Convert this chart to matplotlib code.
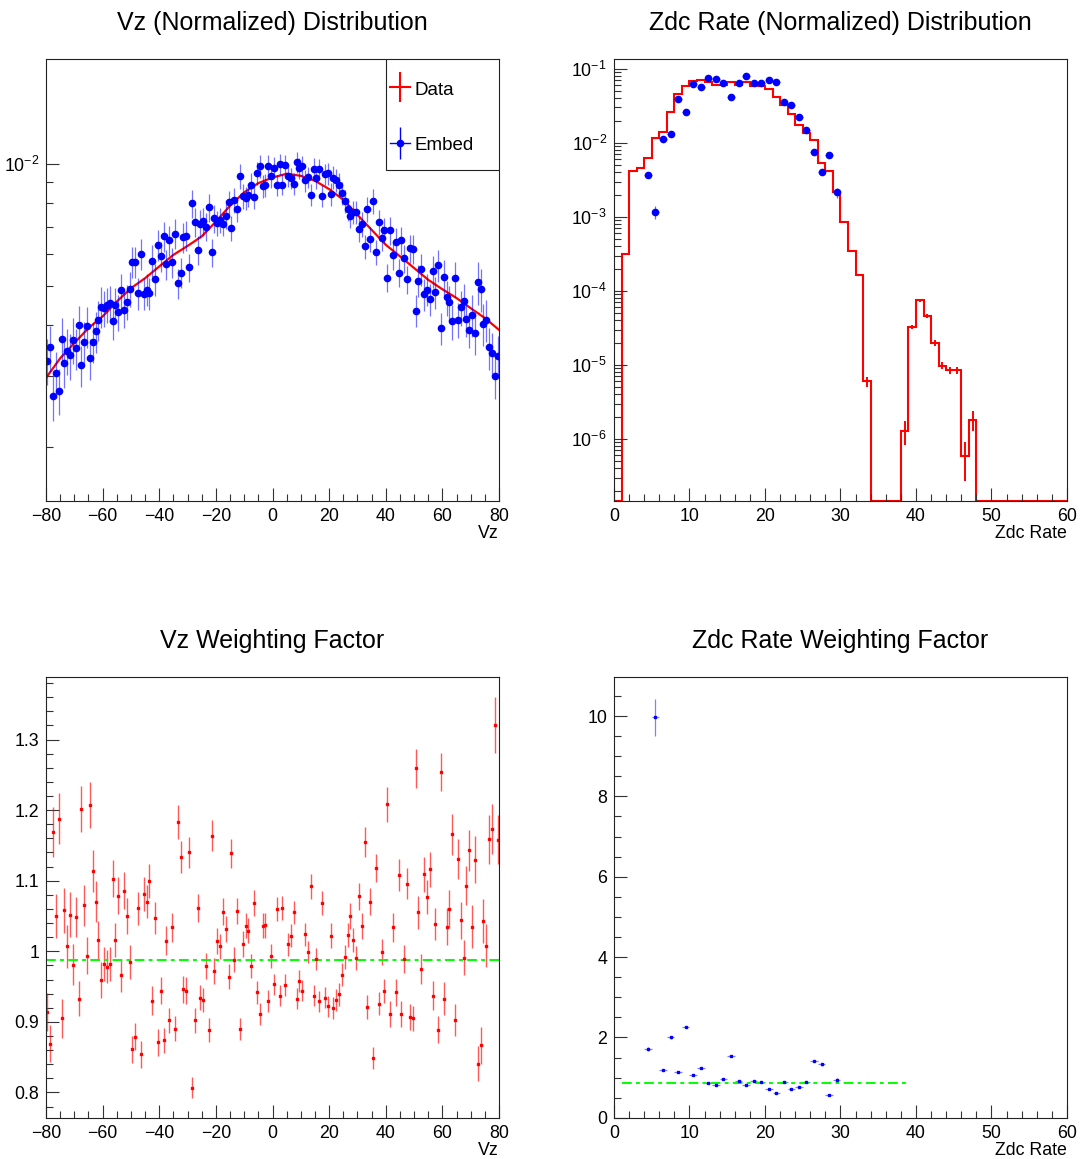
import numpy as np
import matplotlib
matplotlib.use("Agg")
import matplotlib.pyplot as plt
from matplotlib.lines import Line2D
from matplotlib.patches import Rectangle
from matplotlib.ticker import MultipleLocator, LogLocator, NullFormatter, FuncFormatter

plt.rcParams['font.family'] = ['Liberation Sans', 'DejaVu Sans']
plt.rcParams['mathtext.fontset'] = 'custom'
plt.rcParams['mathtext.rm'] = 'Liberation Sans'
plt.rcParams['mathtext.default'] = 'regular'

# ---------------- Vz (1 cm bins, -80..80) ----------------
vz_edges = np.arange(-80, 81, 1)
vz_centers = vz_edges[:-1] + 0.5

# data distribution (red line), read every 5 cm, in units of 1e-3
vz_data_x = [-80, -75, -70, -65, -60, -55, -50, -45, -40, -35, -30, -25, -20, -15, -10, -5,
             0, 5, 10, 15, 20, 25, 30, 35, 40, 45, 50, 55, 60, 65, 70, 75, 80]
vz_data = [2.96, 3.31, 3.61, 3.93, 4.20, 4.57, 4.93, 5.22, 5.58, 5.96, 6.27, 6.62, 7.20, 7.88, 8.50, 8.96,
           9.25, 9.45, 9.34, 9.08, 8.66, 8.15, 7.48, 6.87, 6.31, 5.91, 5.53, 5.17, 4.90, 4.66, 4.40, 4.16, 3.89]

# embed distribution (blue points), one per bin, units of 1e-3
vz_embed = [3.26, 3.52, 2.67, 3.04, 2.75, 3.69, 3.22, 3.45, 3.37, 3.68,
            3.50, 4.00, 3.18, 3.64, 3.97, 3.31, 3.64, 3.86, 4.12, 4.44,
            4.40, 4.49, 4.53, 4.08, 4.49, 4.30, 4.87, 4.36, 4.56, 4.92,
            5.73, 5.73, 4.79, 6.00, 4.78, 4.89, 4.79, 5.77, 5.19, 6.31,
            5.91, 6.62, 5.66, 6.47, 5.72, 6.72, 5.07, 5.39, 6.58, 6.64,
            5.56, 7.98, 7.19, 6.13, 7.12, 7.22, 7.00, 7.82, 6.05, 7.34,
            7.14, 7.27, 7.12, 7.44, 8.03, 6.94, 8.13, 7.74, 9.31, 8.34,
            8.23, 8.37, 8.89, 8.29, 9.48, 9.87, 8.79, 8.84, 9.89, 9.34,
            9.79, 8.84, 10.0, 8.89, 9.94, 9.34, 9.22, 8.93, 10.08, 9.76,
            9.87, 9.10, 9.27, 8.38, 9.72, 9.22, 9.70, 8.34, 9.43, 9.47,
            8.43, 9.25, 9.10, 8.89, 8.46, 8.10, 7.74, 7.44, 7.60, 7.60,
            6.91, 7.11, 6.25, 7.74, 6.53, 8.10, 6.05, 7.18, 6.55, 6.85,
            5.23, 6.85, 5.94, 6.41, 5.39, 6.47, 5.84, 5.19, 6.19, 6.16,
            4.34, 5.15, 5.50, 4.77, 4.89, 4.63, 5.43, 4.82, 5.62, 3.93,
            5.25, 4.68, 4.55, 4.08, 5.21, 4.12, 4.42, 4.59, 4.14, 3.89,
            4.24, 3.83, 5.10, 4.90, 4.03, 4.12, 3.52, 3.42, 2.99, 3.36]
# relative error of embed points, per 10 cm group
vz_embed_relerr = [0.13, 0.115, 0.10, 0.09, 0.085, 0.08, 0.07, 0.065,
                   0.06, 0.062, 0.065, 0.07, 0.08, 0.09, 0.10, 0.12]

# weighting factor per bin
vz_weight = [0.914, 0.869, 1.169, 1.050, 1.188, 0.905, 1.058, 1.007, 1.052, 0.981,
             1.049, 0.933, 1.202, 1.065, 0.994, 1.207, 1.114, 1.070, 1.016, 0.959,
             0.982, 0.978, 0.982, 1.103, 1.016, 1.079, 0.966, 1.086, 1.050, 0.985,
             0.861, 0.879, 1.061, 0.854, 1.081, 1.070, 1.099, 0.930, 1.047, 0.871,
             0.944, 0.874, 1.015, 0.902, 1.034, 0.890, 1.183, 1.133, 0.946, 0.944,
             1.140, 0.807, 0.902, 1.061, 0.934, 0.931, 0.979, 0.888, 1.164, 0.972,
             1.015, 1.007, 1.056, 1.032, 0.964, 1.139, 0.988, 1.057, 0.890, 1.010,
             1.036, 1.029, 0.979, 1.068, 0.942, 0.911, 1.036, 1.037, 0.930, 0.993,
             0.953, 1.060, 0.937, 1.062, 0.952, 1.010, 1.022, 1.055, 0.933, 0.958,
             0.944, 1.024, 0.999, 1.092, 0.937, 0.989, 0.929, 1.069, 0.934, 0.922,
             1.022, 0.920, 0.931, 0.939, 0.967, 0.992, 1.023, 1.050, 1.016, 0.990,
             1.078, 1.036, 1.155, 0.921, 1.070, 0.849, 1.118, 0.926, 0.999, 0.944,
             1.208, 0.911, 1.034, 0.942, 1.108, 0.911, 0.989, 1.096, 0.907, 0.905,
             1.259, 1.055, 0.975, 1.109, 1.077, 1.116, 0.937, 1.039, 0.889, 1.254,
             0.933, 1.035, 1.060, 1.166, 0.903, 1.131, 1.044, 0.991, 1.093, 1.143,
             1.035, 1.130, 0.841, 0.867, 1.043, 1.008, 1.159, 1.173, 1.320, 1.158]
vz_weight_relerr = [0.03, 0.027, 0.024, 0.022, 0.02, 0.019, 0.018, 0.017,
                    0.016, 0.016, 0.017, 0.018, 0.02, 0.022, 0.025, 0.03]
vz_fit = 0.987

# ---------------- Zdc rate (1 unit bins, 0..60) ----------------
zdc_edges = np.arange(0, 61, 1)
zdc_data = [0, 3.16e-4, 4.2e-3, 4.5e-3, 6.3e-3, 1.17e-2, 1.38e-2, 2.6e-2, 4.5e-2, 5.9e-2,
            6.8e-2, 7.1e-2, 6.6e-2, 6.05e-2, 6.05e-2, 6.55e-2, 6.1e-2, 6.55e-2, 5.85e-2, 5.85e-2,
            5.25e-2, 4.2e-2, 3.2e-2, 2.45e-2, 1.76e-2, 1.37e-2, 1.08e-2, 5.4e-3, 4.15e-3, 2.15e-3,
            8.5e-4, 3.5e-4, 1.63e-4, 6.0e-6, 0, 0, 0, 0, 1.28e-6, 3.25e-5,
            7.5e-5, 4.6e-5, 2.0e-5, 9.8e-6, 8.5e-6, 8.5e-6, 5.9e-7, 1.83e-6, 0, 0,
            0, 0, 0, 0, 0, 0, 0, 0, 0, 0]
# bins whose data error bars are visible, and their relative errors
zdc_err_bins = [33, 38, 39, 40, 41, 42, 43, 44, 45, 46, 47]
zdc_err_rel = [0.15, 0.35, 0.07, 0.05, 0.06, 0.10, 0.10, 0.10, 0.10, 0.54, 0.30]

zdc_embed_x = [4.5, 5.5, 6.5, 7.5, 8.5, 9.5, 10.5, 11.5, 12.5, 13.5, 14.5, 15.5, 16.5,
               17.5, 18.5, 19.5, 20.5, 21.5, 22.5, 23.5, 24.5, 25.5, 26.5, 27.5, 28.5, 29.5]
zdc_embed = [3.67e-3, 1.17e-3, 1.13e-2, 1.32e-2, 3.85e-2, 2.59e-2, 6.2e-2, 5.59e-2, 7.55e-2,
             7.25e-2, 6.33e-2, 4.22e-2, 6.4e-2, 7.87e-2, 6.33e-2, 6.33e-2, 7.1e-2, 6.53e-2,
             3.54e-2, 3.29e-2, 2.22e-2, 1.49e-2, 7.45e-3, 3.99e-3, 6.85e-3, 2.14e-3]
zdc_embed_relerr = [0.10, 0.20, 0.05, 0.05, 0.04, 0.05, 0.04, 0.04, 0.03, 0.03, 0.04, 0.04, 0.04,
                    0.03, 0.04, 0.04, 0.03, 0.04, 0.04, 0.04, 0.05, 0.05, 0.06, 0.08, 0.06, 0.16]

zdc_weight = [1.72, 9.97, 1.195, 2.0, 1.145, 2.266, 1.07, 1.245, 0.87, 0.81, 0.96, 1.54, 0.92,
              0.83, 0.92, 0.90, 0.72, 0.63, 0.88, 0.72, 0.77, 0.90, 1.42, 1.33, 0.58, 0.95]
zdc_weight_err = [0.05, 0.46, 0.03, 0.04, 0.02, 0.03, 0.01, 0.01, 0.01, 0.01, 0.01, 0.02, 0.01,
                  0.01, 0.01, 0.01, 0.01, 0.01, 0.01, 0.01, 0.01, 0.01, 0.03, 0.04, 0.02, 0.05]
zdc_fit = 0.87
zdc_fit_range = (1, 39)

# ---------------- figure ----------------
fig = plt.figure(figsize=(10.83, 11.59), dpi=100)
ax_vz = fig.add_axes([0.0425, 0.5677, 0.4183, 0.3810])
ax_zdc = fig.add_axes([0.5669, 0.5677, 0.4183, 0.3810])
ax_vzw = fig.add_axes([0.0425, 0.0355, 0.4183, 0.3800])
ax_zdcw = fig.add_axes([0.5669, 0.0355, 0.4183, 0.3800])

TICK_FS = 12.8
GREEN = '#00ff00'


def style_axes(ax, title, xlabel):
    ax.set_title(title, fontsize=18, pad=21)
    ax.set_xlabel(xlabel, fontsize=TICK_FS, loc='right')
    ax.xaxis.set_label_coords(1.0, -0.073)
    ax.xaxis.label.set_verticalalignment('center')
    ax.tick_params(which='both', direction='in', top=False, right=False,
                   labelsize=TICK_FS, width=0.8, color='#333333')
    ax.tick_params(which='major', length=9.5, pad=5)
    ax.tick_params(which='minor', length=4.8)
    for sp in ax.spines.values():
        sp.set_linewidth(0.8)
        sp.set_color('#222222')


# ---- top left: Vz distributions
embed = np.array(vz_embed) * 1e-3
embed_err = embed * np.repeat(vz_embed_relerr, 10)
ax_vz.plot(vz_data_x, np.array(vz_data) * 1e-3, color='red', lw=1.6)
ax_vz.errorbar(vz_centers, embed, yerr=embed_err, fmt='o', color='blue', ms=4.5,
               elinewidth=0.9, ecolor=(0, 0, 1, 0.55), capsize=0)
ax_vz.set_yscale('log')
ax_vz.set_xlim(-80, 80)
ax_vz.set_ylim(1.47e-3, 1.81e-2)
ax_vz.xaxis.set_major_locator(MultipleLocator(20))
ax_vz.xaxis.set_minor_locator(MultipleLocator(5))
ax_vz.yaxis.set_major_locator(LogLocator(base=10))
ax_vz.yaxis.set_minor_locator(LogLocator(base=10, subs=np.arange(2, 10)))
ax_vz.yaxis.set_minor_formatter(NullFormatter())
style_axes(ax_vz, 'Vz (Normalized) Distribution', 'Vz')

# ROOT-style legend box in the top right corner
ax_vz.add_patch(Rectangle((0.7506, 0.7506), 0.2494, 0.2494, transform=ax_vz.transAxes,
                          facecolor='white', edgecolor='#222222', lw=0.8, zorder=4))
h_data = (Line2D([], [], color='red', lw=1.5),
          Line2D([], [], color='red', marker='|', ms=21, mew=1.5, ls='none'))
h_embed = (Line2D([], [], color='blue', lw=1.0),
           Line2D([], [], color='blue', marker='|', ms=23, mew=1.0, ls='none'),
           Line2D([], [], color='blue', marker='o', ms=4.5, ls='none'))
leg = ax_vz.legend([h_data, h_embed], ['Data', 'Embed'], loc='upper left',
                   bbox_to_anchor=(0.7594, 0.954), borderaxespad=0, borderpad=0,
                   fontsize=13.5, frameon=False, handlelength=1.07, handleheight=1.0,
                   handletextpad=0.22, labelspacing=1.95)
leg.set_zorder(5)

# ---- top right: Zdc distributions
zdc_ylim = (1.45e-7, 0.1336)
zdc_vals = np.array(zdc_data)
ax_zdc.stairs(np.clip(zdc_vals, zdc_ylim[0], None), zdc_edges, color='red', lw=1.5)
err_x = np.array(zdc_err_bins) + 0.5
err_v = zdc_vals[zdc_err_bins]
ax_zdc.errorbar(err_x, err_v, yerr=err_v * np.array(zdc_err_rel), fmt='none',
                ecolor='red', elinewidth=1.4, capsize=0)
zemb = np.array(zdc_embed)
ax_zdc.errorbar(zdc_embed_x, zemb, xerr=0.5, yerr=zemb * np.array(zdc_embed_relerr),
                fmt='o', color='blue', ms=4.5, elinewidth=0.9,
                ecolor=(0, 0, 1, 0.6), capsize=0)
ax_zdc.set_yscale('log')
ax_zdc.set_xlim(0, 60)
ax_zdc.set_ylim(*zdc_ylim)
ax_zdc.xaxis.set_major_locator(MultipleLocator(10))
ax_zdc.xaxis.set_minor_locator(MultipleLocator(2))
ax_zdc.yaxis.set_major_locator(LogLocator(base=10, numticks=20))
ax_zdc.yaxis.set_minor_locator(LogLocator(base=10, subs=np.arange(2, 10), numticks=20))
ax_zdc.yaxis.set_minor_formatter(NullFormatter())
style_axes(ax_zdc, 'Zdc Rate (Normalized) Distribution', 'Zdc Rate')

# ---- bottom left: Vz weighting factor
w = np.array(vz_weight)
ax_vzw.errorbar(vz_centers, w, yerr=w * np.repeat(vz_weight_relerr, 10), fmt='s',
                color='red', ms=1.6, elinewidth=1.0, ecolor=(1, 0, 0, 0.65), capsize=0)
ax_vzw.hlines(vz_fit, vz_edges[0], vz_edges[-1], color=GREEN, lw=1.4,
              linestyles=[(0, (5, 2.2, 2, 2.2))])
ax_vzw.set_xlim(-80, 80)
ax_vzw.set_ylim(0.764, 1.388)
ax_vzw.xaxis.set_major_locator(MultipleLocator(20))
ax_vzw.xaxis.set_minor_locator(MultipleLocator(5))
ax_vzw.yaxis.set_major_locator(MultipleLocator(0.1))
ax_vzw.yaxis.set_minor_locator(MultipleLocator(0.02))
ax_vzw.yaxis.set_major_formatter(FuncFormatter(lambda v, p: f'{v:g}'))
style_axes(ax_vzw, 'Vz Weighting Factor', 'Vz')

# ---- bottom right: Zdc weighting factor
ax_zdcw.errorbar(zdc_embed_x, zdc_weight, xerr=0.5, yerr=zdc_weight_err, fmt='s',
                 color='blue', ms=1.6, elinewidth=0.9, ecolor=(0, 0, 1, 0.5), capsize=0)
ax_zdcw.hlines(zdc_fit, zdc_fit_range[0], zdc_fit_range[1], color=GREEN, lw=1.4,
               linestyles=[(0, (5, 2.2, 2, 2.2))])
ax_zdcw.set_xlim(0, 60)
ax_zdcw.set_ylim(0, 10.96)
ax_zdcw.xaxis.set_major_locator(MultipleLocator(10))
ax_zdcw.xaxis.set_minor_locator(MultipleLocator(2))
ax_zdcw.yaxis.set_major_locator(MultipleLocator(2))
ax_zdcw.yaxis.set_minor_locator(MultipleLocator(0.5))
style_axes(ax_zdcw, 'Zdc Rate Weighting Factor', 'Zdc Rate')

fig.savefig('out.png', dpi=100)
